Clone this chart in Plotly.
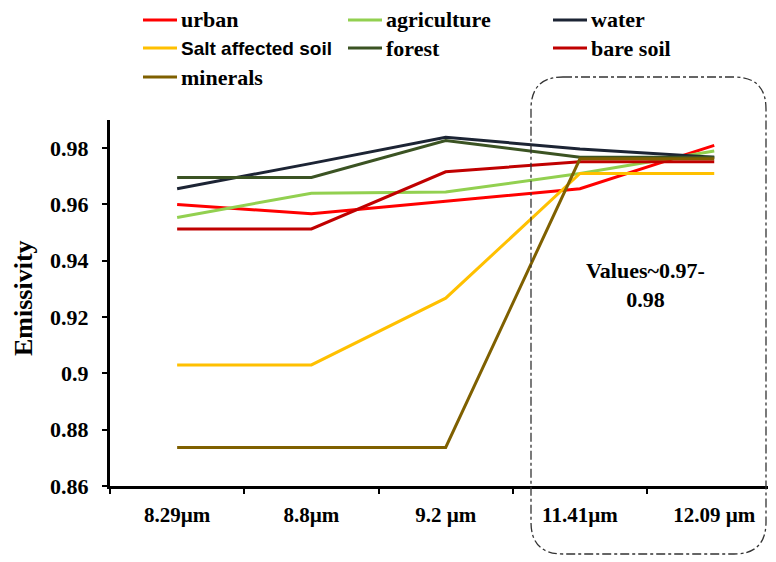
import plotly.graph_objects as go

# wavelength bands on the x axis
bands = ["8.29µm", "8.8µm", "9.2 µm", "11.41µm", "12.09 µm"]

# emissivity
urban = [0.960, 0.9567, 0.9611, 0.9656, 0.981]
agriculture = [0.9554, 0.964, 0.9644, 0.971, 0.979]
water = [0.9656, 0.9746, 0.9839, 0.9797, 0.9768]
salt_soil = [0.903, 0.903, 0.9267, 0.971, 0.971]
forest = [0.9696, 0.9696, 0.9827, 0.9768, 0.9768]
bare_soil = [0.9513, 0.9513, 0.9716, 0.9752, 0.9752]
minerals = [0.8737, 0.8737, 0.8737, 0.9762, 0.9762]

ytick_vals = [0.86, 0.88, 0.90, 0.92, 0.94, 0.96, 0.98]
ytick_text = ["0.86", "0.88", "0.9", "0.92", "0.94", "0.96", "0.98"]

series = [
    ("urban", urban, "#FF0000"),
    ("agriculture", agriculture, "#92D050"),
    ("water", water, "#1C2434"),
    ("Salt affected soil", salt_soil, "#FFC000"),
    ("forest", forest, "#3B5323"),
    ("bare soil", bare_soil, "#C00000"),
    ("minerals", minerals, "#7F6000"),
]

# page has an 8px body margin, so the figure is 8px smaller than the window
OFF = 8
W, H = 776 - OFF, 562 - OFF
ML, MR, MT, MB = 110 - OFF, 0, 120 - OFF, 562 - 486
PW, PH = W - ML - MR, H - MT - MB

serif = "Liberation Serif"
sans = "Liberation Sans"

fig = go.Figure()
for name, vals, col in series:
    fig.add_trace(go.Scatter(x=bands, y=vals, mode="lines", name=name,
                             showlegend=False, line=dict(color=col, width=3)))


def px2paper(x, y):
    # page pixel -> paper coords
    return (x - OFF - ML) / PW, (H - MB - (y - OFF)) / PH


# legend laid out like the original: 3 columns at the top
col_x = [143, 348, 553]
row_y = [20, 48, 77]
for i, (name, vals, col) in enumerate(series):
    r, c = divmod(i, 3)
    xa, ya = px2paper(col_x[c], row_y[r])
    xb, _ = px2paper(col_x[c] + 34, row_y[r])
    fig.add_shape(type="line", xref="paper", yref="paper", x0=xa, x1=xb,
                  y0=ya, y1=ya, line=dict(color=col, width=3))
    xt, _ = px2paper(col_x[c] + 36, row_y[r])
    is_sans = name.startswith("Salt")
    fig.add_annotation(x=xt, y=ya, xref="paper", yref="paper", xanchor="left",
                       yanchor="middle", text=name, showarrow=False,
                       font=dict(family=sans if is_sans else serif,
                                 size=19 if is_sans else 22, color="black",
                                 weight="bold"))

# dash-dot rounded box around the last two bands
L, R, T, B, rad = 531, 766, 77, 554, 32
x0, y0 = px2paper(L, T)
x1, y1 = px2paper(R, B)
rx, ry = rad / PW, rad / PH
path = (f"M{x0+rx},{y0} H{x1-rx} Q{x1},{y0} {x1},{y0-ry} V{y1+ry} "
        f"Q{x1},{y1} {x1-rx},{y1} H{x0+rx} Q{x0},{y1} {x0},{y1+ry} "
        f"V{y0-ry} Q{x0},{y0} {x0+rx},{y0} Z")
fig.add_shape(type="path", path=path, xref="paper", yref="paper",
              line=dict(color="#333333", width=1.3, dash="dashdot"))

ax, ay = px2paper(645, 285)
fig.add_annotation(x=ax, y=ay, xref="paper", yref="paper", xanchor="center",
                   yanchor="middle", text="Values~0.97-<br>0.98", showarrow=False,
                   font=dict(family=serif, size=22, color="black", weight="bold"))

tx, ty = px2paper(23, 298)
fig.add_annotation(x=tx, y=ty, xref="paper", yref="paper", xanchor="center",
                   yanchor="middle", text="Emissivity", textangle=-90,
                   showarrow=False,
                   font=dict(family=serif, size=26, color="black", weight="bold"))

fig.update_layout(
    width=W, height=H,
    margin=dict(l=ML, r=MR, t=MT, b=MB),
    plot_bgcolor="white", paper_bgcolor="white",
    showlegend=False,
    xaxis=dict(type="category", range=[-0.5, 4.46], showline=True,
               linecolor="black", linewidth=3, ticks="outside", ticklen=5,
               tickwidth=2, tickcolor="black", tickson="boundaries",
               showgrid=False, zeroline=False, ticklabelstandoff=8,
               tickfont=dict(family=serif, size=21, color="black", weight="bold")),
    yaxis=dict(range=[0.86, 0.99], tickvals=ytick_vals, ticktext=ytick_text,
               showline=True, linecolor="black", linewidth=3, ticks="outside",
               ticklen=5, tickwidth=2, tickcolor="black", showgrid=False,
               zeroline=False, ticklabelstandoff=9,
               tickfont=dict(family=serif, size=22, color="black", weight="bold")),
)

fig.write_html("out.html")
